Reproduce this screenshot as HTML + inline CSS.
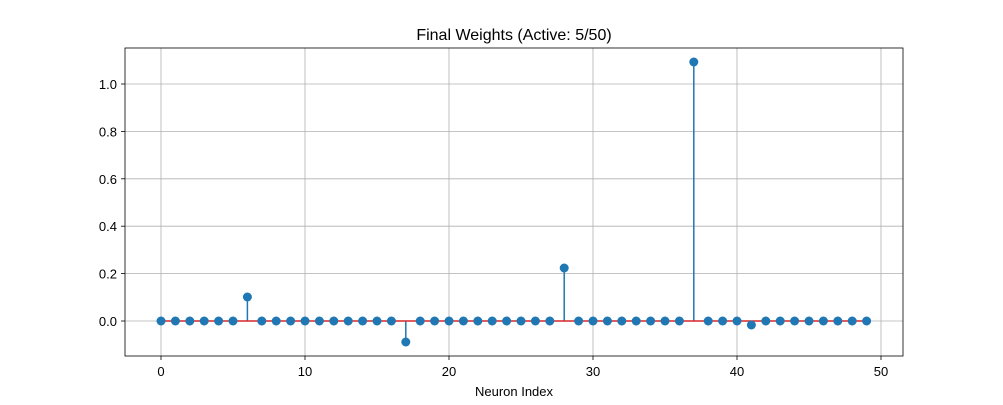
<!DOCTYPE html>
<html><head><style>body{margin:0;background:#fff}</style></head><body>
<svg width="1003" height="400" xmlns="http://www.w3.org/2000/svg" font-family="Liberation Sans, DejaVu Sans, sans-serif">
<rect width="1003" height="400" fill="#fff"/>
<g stroke="#b0b0b0" stroke-width="0.8">
<line x1="161" y1="48" x2="161" y2="356"/><line x1="305" y1="48" x2="305" y2="356"/><line x1="449" y1="48" x2="449" y2="356"/><line x1="593" y1="48" x2="593" y2="356"/><line x1="737" y1="48" x2="737" y2="356"/><line x1="881" y1="48" x2="881" y2="356"/>
<line x1="125" y1="321" x2="903" y2="321"/><line x1="125" y1="273.6" x2="903" y2="273.6"/><line x1="125" y1="226.2" x2="903" y2="226.2"/><line x1="125" y1="178.8" x2="903" y2="178.8"/><line x1="125" y1="131.4" x2="903" y2="131.4"/><line x1="125" y1="84" x2="903" y2="84"/>
</g>
<g stroke="#1f77b4" stroke-width="1.5">
<line x1="247.4" y1="321" x2="247.4" y2="297"/><line x1="405.8" y1="321" x2="405.8" y2="342"/><line x1="564.2" y1="321" x2="564.2" y2="268"/><line x1="693.8" y1="321" x2="693.8" y2="62"/><line x1="751.4" y1="321" x2="751.4" y2="325"/>
</g>
<line x1="161" y1="321" x2="866.6" y2="321" stroke="#d62728" stroke-width="1.5"/>
<g fill="#1f77b4">
<circle cx="161" cy="321" r="4.5"/><circle cx="175.4" cy="321" r="4.5"/><circle cx="189.8" cy="321" r="4.5"/><circle cx="204.2" cy="321" r="4.5"/><circle cx="218.6" cy="321" r="4.5"/><circle cx="233" cy="321" r="4.5"/><circle cx="247.4" cy="297" r="4.5"/><circle cx="261.8" cy="321" r="4.5"/><circle cx="276.2" cy="321" r="4.5"/><circle cx="290.6" cy="321" r="4.5"/>
<circle cx="305" cy="321" r="4.5"/><circle cx="319.4" cy="321" r="4.5"/><circle cx="333.8" cy="321" r="4.5"/><circle cx="348.2" cy="321" r="4.5"/><circle cx="362.6" cy="321" r="4.5"/><circle cx="377" cy="321" r="4.5"/><circle cx="391.4" cy="321" r="4.5"/><circle cx="405.8" cy="342" r="4.5"/><circle cx="420.2" cy="321" r="4.5"/><circle cx="434.6" cy="321" r="4.5"/>
<circle cx="449" cy="321" r="4.5"/><circle cx="463.4" cy="321" r="4.5"/><circle cx="477.8" cy="321" r="4.5"/><circle cx="492.2" cy="321" r="4.5"/><circle cx="506.6" cy="321" r="4.5"/><circle cx="521" cy="321" r="4.5"/><circle cx="535.4" cy="321" r="4.5"/><circle cx="549.8" cy="321" r="4.5"/><circle cx="564.2" cy="268" r="4.5"/><circle cx="578.6" cy="321" r="4.5"/>
<circle cx="593" cy="321" r="4.5"/><circle cx="607.4" cy="321" r="4.5"/><circle cx="621.8" cy="321" r="4.5"/><circle cx="636.2" cy="321" r="4.5"/><circle cx="650.6" cy="321" r="4.5"/><circle cx="665" cy="321" r="4.5"/><circle cx="679.4" cy="321" r="4.5"/><circle cx="693.8" cy="62" r="4.5"/><circle cx="708.2" cy="321" r="4.5"/><circle cx="722.6" cy="321" r="4.5"/>
<circle cx="737" cy="321" r="4.5"/><circle cx="751.4" cy="325" r="4.5"/><circle cx="765.8" cy="321" r="4.5"/><circle cx="780.2" cy="321" r="4.5"/><circle cx="794.6" cy="321" r="4.5"/><circle cx="809" cy="321" r="4.5"/><circle cx="823.4" cy="321" r="4.5"/><circle cx="837.8" cy="321" r="4.5"/><circle cx="852.2" cy="321" r="4.5"/><circle cx="866.6" cy="321" r="4.5"/>
</g>
<g fill="none" stroke="#000" stroke-width="0.8"><rect x="125" y="48" width="778" height="308"/></g>
<g stroke="#000" stroke-width="0.8">
<line x1="161" y1="356" x2="161" y2="360"/><line x1="305" y1="356" x2="305" y2="360"/><line x1="449" y1="356" x2="449" y2="360"/><line x1="593" y1="356" x2="593" y2="360"/><line x1="737" y1="356" x2="737" y2="360"/><line x1="881" y1="356" x2="881" y2="360"/>
<line x1="121" y1="321" x2="125" y2="321"/><line x1="121" y1="273.6" x2="125" y2="273.6"/><line x1="121" y1="226.2" x2="125" y2="226.2"/><line x1="121" y1="178.8" x2="125" y2="178.8"/><line x1="121" y1="131.4" x2="125" y2="131.4"/><line x1="121" y1="84" x2="125" y2="84"/>
</g>
<g font-size="13" text-anchor="middle" fill="#000">
<text x="161" y="376">0</text><text x="305" y="376">10</text><text x="449" y="376">20</text><text x="593" y="376">30</text><text x="737" y="376">40</text><text x="881" y="376">50</text>
<text x="514" y="396">Neuron Index</text>
<text x="514" y="40" font-size="16">Final Weights (Active: 5/50)</text>
</g>
<g font-size="13" text-anchor="end" fill="#000">
<text x="117" y="326">0.0</text><text x="117" y="278.6">0.2</text><text x="117" y="231.2">0.4</text><text x="117" y="183.8">0.6</text><text x="117" y="136.4">0.8</text><text x="117" y="89">1.0</text>
</g>
</svg>
</body></html>
